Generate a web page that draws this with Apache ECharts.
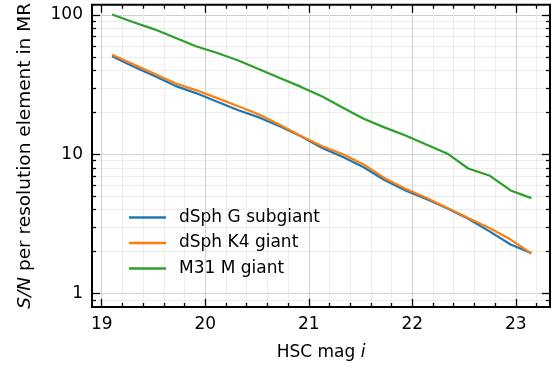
<!DOCTYPE html>
<html>
<head>
<meta charset="utf-8">
<script src="https://cdn.jsdelivr.net/npm/echarts@6/dist/echarts.min.js"></script>
<style>
  html, body { margin: 0; padding: 0; background: #fff; }
  #chart { width: 559px; height: 369px; }
</style>
</head>
<body>
<div id="chart"></div>
<script>
// HSC i magnitude of each point
const mags = [19.10, 19.30, 19.51, 19.71, 19.91, 20.11, 20.32, 20.52, 20.72, 20.92,
              21.13, 21.33, 21.53, 21.73, 21.94, 22.14, 22.34, 22.54, 22.75, 22.95, 23.15]
const snGSubgiant = [50.5, 42.9, 36.5, 31.0, 27.5, 23.9, 20.7, 18.4, 15.9, 13.5,
                     11.1, 9.55, 8.07, 6.53, 5.47, 4.75, 4.08, 3.44, 2.78, 2.25, 1.95]
const snK4Giant = [51.9, 44.4, 37.9, 32.4, 28.9, 25.4, 22.1, 19.3, 16.3, 13.6,
                   11.4, 10.0, 8.45, 6.76, 5.62, 4.86, 4.12, 3.48, 2.94, 2.44, 1.94]
const snM31MGiant = [101, 89, 78.9, 68.7, 59.6, 53.6, 47.1, 40.8, 35.3, 30.6,
                     26.0, 21.6, 18.0, 15.6, 13.6, 11.7, 10.1, 7.9, 7.0, 5.5, 4.84]
const seriesNames = ['dSph G subgiant', 'dSph K4 giant', 'M31 M giant']

const xMajor = [19, 20, 21, 22, 23]
const xMinor = [19.2, 19.4, 19.6, 19.8, 20.2, 20.4, 20.6, 20.8, 21.2, 21.4, 21.6, 21.8,
                22.2, 22.4, 22.6, 22.8, 23.2]
const yMajor = [1, 10, 100]
const yMinor = [0.9, 2, 3, 4, 5, 6, 7, 8, 9, 20, 30, 40, 50, 60, 70, 80, 90]

const chart = echarts.init(document.getElementById('chart'))

const font = 'DejaVu Sans'
const xMin = 18.906, xMax = 23.33
const yMin = 0.8, yMax = 118.5

function xAx(pos, ticks, len, opts) {
    return Object.assign({
        type: 'value', position: pos, min: xMin, max: xMax,
        axisLine: { show: false },
        axisTick: { show: true, inside: true, length: len, customValues: ticks,
            lineStyle: { color: '#000', width: 1.3 } },
        axisLabel: { show: false },
        splitLine: { show: false }
    }, opts || {})
}
function yAx(pos, ticks, len, opts) {
    return Object.assign({
        type: 'log', logBase: 10, position: pos, min: yMin, max: yMax,
        axisLine: { show: false },
        axisTick: { show: true, inside: true, length: len, customValues: ticks,
            lineStyle: { color: '#000', width: 1.3 } },
        axisLabel: { show: false },
        splitLine: { show: false }
    }, opts || {})
}

const colors = ['#1f77b4', '#ff7f0e', '#2ca02c']
const seriesData = [snGSubgiant, snK4Giant, snM31MGiant]

const option = {
    animation: false,
    textStyle: { fontFamily: font },
    grid: {
        left: 92, top: 3, right: 9, bottom: 62,
        show: true, borderColor: '#000', borderWidth: 2, backgroundColor: 'transparent'
    },
    legend: {
        orient: 'vertical',
        left: 124, top: 204,
        icon: 'rect',
        itemWidth: 37, itemHeight: 2.4, itemGap: 8.5,
        textStyle: { fontSize: 17, lineHeight: 17, color: '#000', fontFamily: font, padding: [0, 0, 0, 8] },
        data: seriesNames
    },
    xAxis: [
        xAx('bottom', xMajor, 8, {
            axisLabel: { show: true, customValues: xMajor, fontSize: 17, color: '#000',
                margin: 9, fontFamily: font },
            splitLine: { show: true, lineStyle: { color: '#cfcfcf', width: 1 } },
            name: 'HSC mag {it|i}', nameLocation: 'middle', nameGap: 37,
            nameTextStyle: { fontSize: 17, color: '#000', fontFamily: font,
                rich: { it: { fontSize: 17, fontStyle: 'italic', fontFamily: font } } }
        }),
        xAx('bottom', xMinor, 4, {
            splitLine: { show: true, lineStyle: { color: '#ececec', width: 1 } }
        }),
        xAx('top', xMajor, 8),
        xAx('top', xMinor, 4)
    ],
    yAxis: [
        yAx('left', yMajor, 8, {
            axisLabel: { show: true, customValues: yMajor, fontSize: 17, color: '#000',
                margin: 9, fontFamily: font },
            splitLine: { show: true, lineStyle: { color: '#cfcfcf', width: 1 } },
            name: '{it|S/N} per resolution element in MR', nameLocation: 'middle', nameGap: 57,
            nameTextStyle: { fontSize: 18.5, color: '#000', fontFamily: font,
                rich: { it: { fontSize: 18.5, fontStyle: 'italic', fontFamily: font } } }
        }),
        yAx('left', yMinor, 4, {
            splitLine: { show: true, lineStyle: { color: '#ececec', width: 1 } }
        }),
        yAx('right', yMajor, 8),
        yAx('right', yMinor, 4)
    ],
    series: seriesNames.map(function (name, k) {
        return {
            name: name,
            type: 'line',
            xAxisIndex: 0,
            yAxisIndex: 0,
            symbol: 'none',
            itemStyle: { color: colors[k] },
            lineStyle: { color: colors[k], width: 2.2 },
            data: mags.map(function (m, i) { return [m, seriesData[k][i]] })
        }
    })
}
chart.setOption(option)
</script>
</body>
</html>
